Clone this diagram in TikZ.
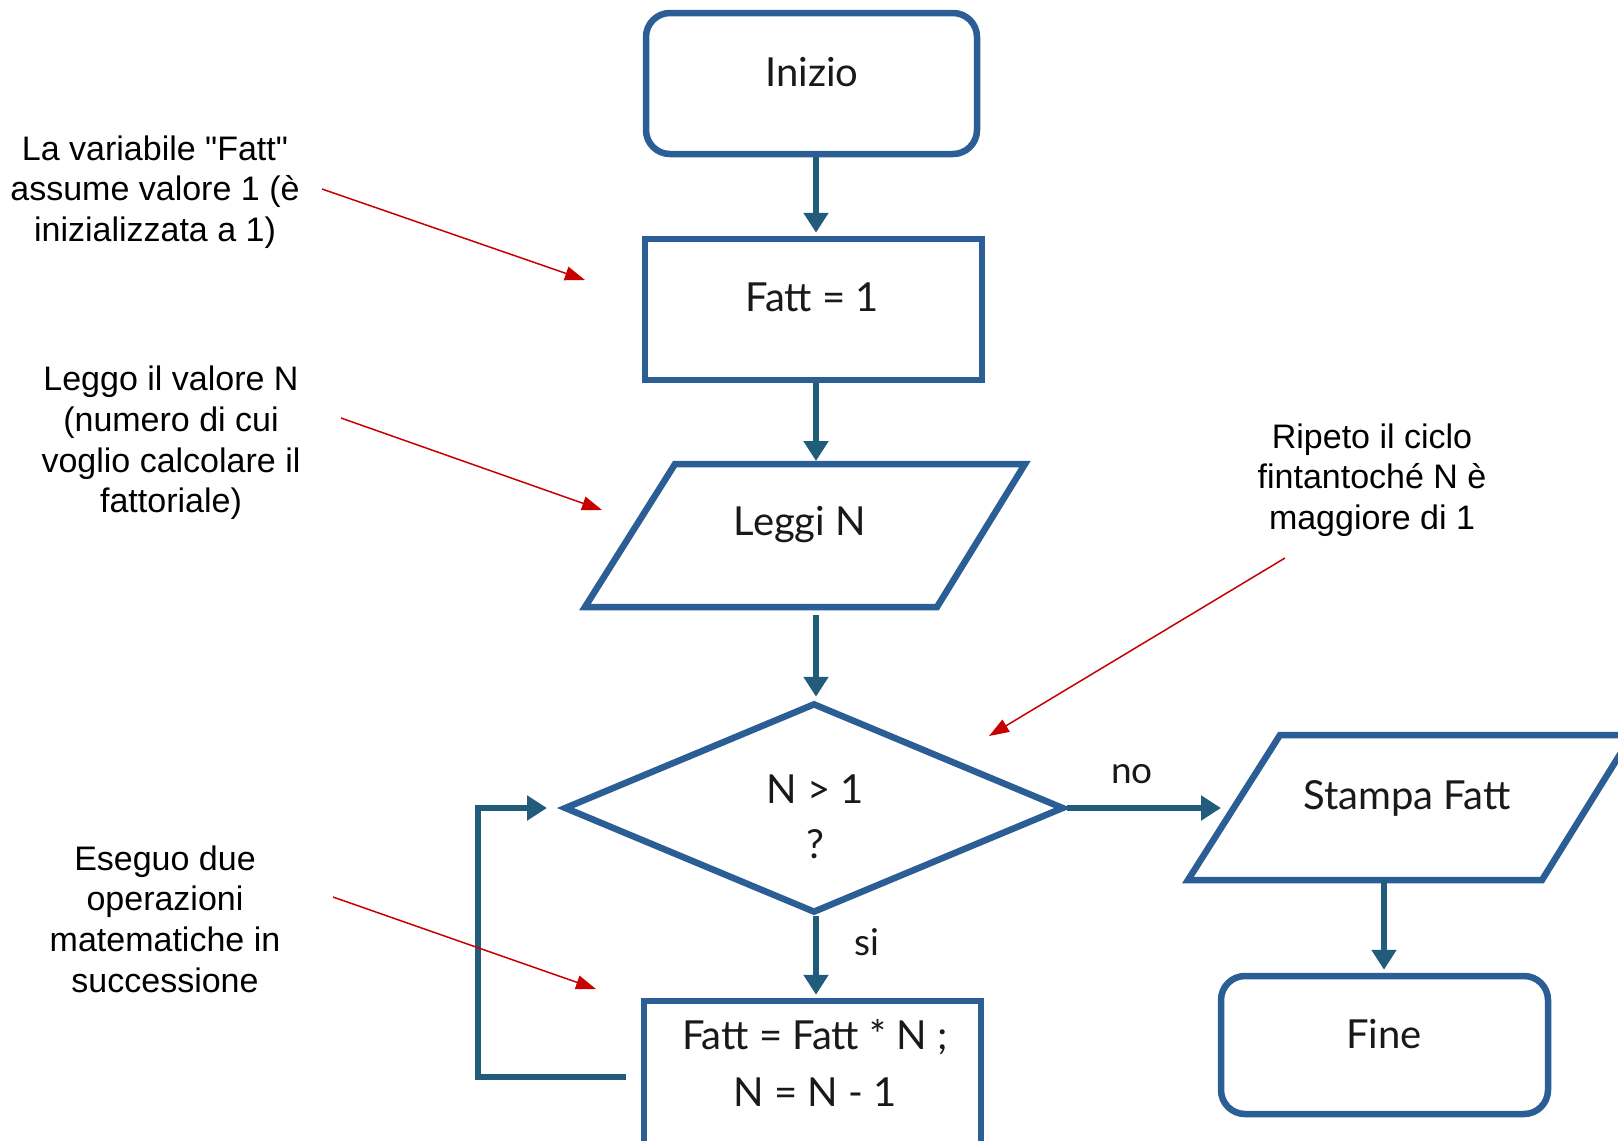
\documentclass[tikz,border=0pt]{standalone}
\usepackage{fontspec}
\newfontfamily\notefont{Liberation Sans}
\newfontfamily\flowfont{Lato}
\usetikzlibrary{arrows.meta,shapes.geometric}
\definecolor{boxc}{RGB}{44,94,150}
\definecolor{arrc}{RGB}{33,93,122}
\definecolor{notec}{RGB}{200,0,0}
\begin{document}
\begin{tikzpicture}[x=1pt,y=-1pt,
  shapeline/.style={draw=boxc, line width=6.5pt, line join=miter},
  termbox/.style={shapeline, rounded corners=24pt, minimum width=331pt, minimum height=141pt, inner sep=0pt},
  procbox/.style={shapeline, minimum width=337pt, minimum height=141pt, inner sep=0pt},
  decbox/.style={shapeline, diamond, minimum width=500pt, minimum height=210pt, inner sep=0pt},
  flowtext/.style={font=\flowfont\fontsize{40}{52}\selectfont, text=black!90, align=center, inner sep=0pt},
  notetext/.style={font=\notefont\fontsize{34}{40.7}\selectfont, align=center, inner sep=0pt},
  flowarrow/.style={draw=arrc, line width=6.5pt, line join=miter, shorten >=3pt, -{Triangle[length=20pt,width=24pt]}},
  notearrow/.style={draw=notec, line width=1.5pt, -{Triangle[length=20pt,width=14pt]}},
]
\useasboundingbox (0,0) rectangle (1618,1141);
\fill[white] (0,0) rectangle (1618,1141);
\clip (0,0) rectangle (1618,1141);

% main column of the flow
\coordinate (col) at (816,0);

% start
\node[termbox] (inizio) at (811.5,83.5) {};
\node[flowtext] (inizio-t) at (812,72) {Inizio};

% initialisation
\node[procbox] (init) at (813.5,309.5) {};
\node[flowtext] (init-t) at (812,297) {Fatt = 1};

% input (parallelogram)
\draw[shapeline] (675,464) -- (1025,464) -- (937,607) -- (585,607) -- cycle;
\coordinate (leggi-top) at (816,464);
\coordinate (leggi-bot) at (816,607);
\node[flowtext] (leggi-t) at (800,525) {Leggi N};

% decision
\node[decbox] (cond) at (814,808) {};
\node[flowtext] (cond-t1) at (815,789) {N > 1};
\node[flowtext] (cond-t2) at (815,844) {?};

% output (parallelogram)
\draw[shapeline] (1280,735) -- (1632,735) -- (1542,880) -- (1188,880) -- cycle;
\coordinate (stampa-in) at (1221,808);
\coordinate (stampa-bot) at (1384,880);
\node[flowtext] (stampa-t) at (1407,798) {Stampa Fatt};

% end
\node[termbox, minimum width=327pt, minimum height=138pt] (fine) at (1384.5,1045) {};
\node[flowtext] (fine-t) at (1384,1034) {Fine};

% loop body
\node[procbox, minimum width=337pt, minimum height=190pt] (update) at (812.5,1096) {};
\node[flowtext] (update-t1) at (815,1037) {Fatt = Fatt * N ;};
\node[flowtext] (update-t2) at (815,1092) {N = N - 1};

% connectors
\draw[flowarrow] (inizio.south -| col) -- (init.north -| col);
\draw[flowarrow] (init.south -| col) -- (leggi-top);
\draw[flowarrow, shorten <=8pt] (leggi-bot) -- (cond.north -| col);
\draw[flowarrow, shorten >=0pt] (cond.east) -- (stampa-in);
\draw[flowarrow] (stampa-bot) -- (stampa-bot |- fine.north);
\draw[flowarrow] (cond.south -| col) -- (update.north -| col);
\coordinate (loop-start) at (626,1077);
\coordinate (loop-end) at (547,808);
\draw[flowarrow, shorten >=0pt] (loop-start) -- (478,1077) -- (478,808) -- (loop-end);

\node[flowtext, font=\flowfont\fontsize{37}{44}\selectfont] (no-t) at (1132,774) {no};
\node[flowtext, font=\flowfont\fontsize{37}{44}\selectfont] (si-t) at (867,942) {si};

% notes
\node[notetext] (n1) at (155,192) {La variabile "Fatt"\\assume valore 1 (è\\inizializzata a 1)};
\node[notetext] (n2) at (171,443) {Leggo il valore N\\(numero di cui\\voglio calcolare il\\fattoriale)};
\node[notetext] (n3) at (1372,480) {Ripeto il ciclo\\fintantoché N è\\maggiore di 1};
\node[notetext] (n4) at (165,919) {Eseguo due\\operazioni\\matematiche in\\successione};

\coordinate (a1s) at (322,189);
\coordinate (a1e) at (585,280);
\coordinate (a2s) at (341,418);
\coordinate (a2e) at (602,510);
\coordinate (a3s) at (1285,558);
\coordinate (a3e) at (989,736);
\coordinate (a4s) at (333,897);
\coordinate (a4e) at (596,989);
\draw[notearrow] (a1s) -- (a1e);
\draw[notearrow] (a2s) -- (a2e);
\draw[notearrow] (a3s) -- (a3e);
\draw[notearrow] (a4s) -- (a4e);
\end{tikzpicture}
\end{document}
